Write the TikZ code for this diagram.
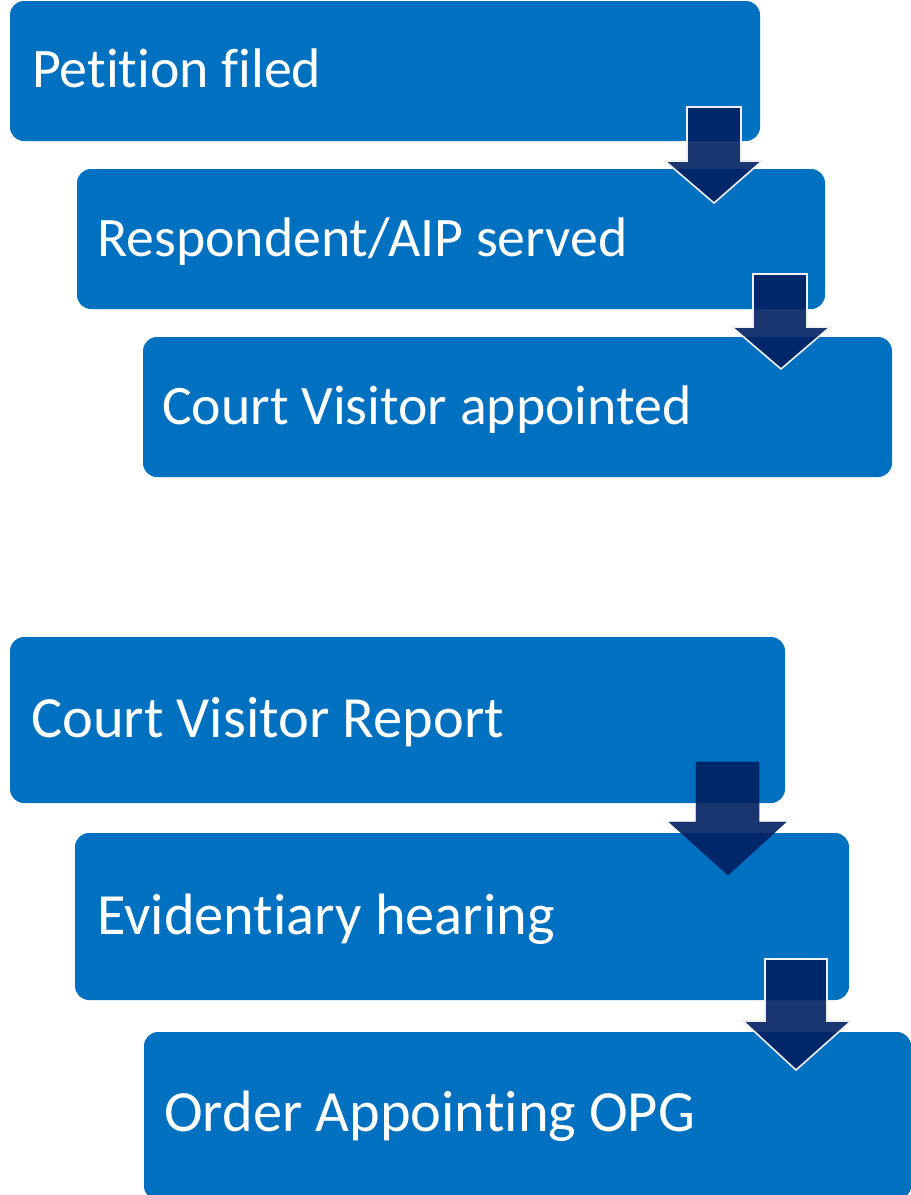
\documentclass[tikz,border=0pt]{standalone}
\usepackage{fontspec}
\setmainfont{Carlito}[Ligatures={NoCommon,NoContextual},Contextuals=NoAlternate]
\definecolor{boxblue}{HTML}{0070C0}
\definecolor{navy}{HTML}{002060}
\begin{document}
\begin{tikzpicture}[x=1bp,y=-1bp,
  stepbox/.style={fill=boxblue,rounded corners=14bp,draw=none},
  steptext/.style={anchor=base west,text=white,font=\fontsize{56}{62}\selectfont,inner sep=0pt},
  steptextb/.style={steptext,font=\fontsize{58.6}{64}\selectfont},
  blockarrow/.style={fill=navy,fill opacity=0.9,draw=white!88!gray,draw opacity=1,line width=1.6bp,line join=miter},
  blockarrowplain/.style={fill=navy,fill opacity=0.9,draw=navy,draw opacity=0.6,line width=0.8bp}]
\useasboundingbox (0,0) rectangle (911,1195);
% boxes
\fill[stepbox] (10,1) rectangle (760,141);
\fill[stepbox] (77,169) rectangle (825,309);
\fill[stepbox] (143,337) rectangle (892,477);
\fill[stepbox] (10,637) rectangle (785,803);
\fill[stepbox] (75,833) rectangle (849,1000);
\fill[stepbox] (144,1032) rectangle (911,1200);
% texts
\node[steptext] (t1) at (32,87) {Petition filed};
\node[steptext] (t2) at (97,256) {Respondent/AIP served};
\node[steptext] (t3) at (162,424) {Court Visitor appointed};
\node[steptextb] (t4) at (31,737) {Court Visitor Report};
\node[steptextb] (t5) at (97,934) {Evidentiary hearing};
\node[steptextb] (t6) at (164,1131) {Order Appointing OPG};
% arrows
\draw[blockarrow] (687,107) -- (741,107) -- (741,161) -- (762,161) -- (714,203) -- (665,161) -- (687,161) -- cycle;
\draw[blockarrow] (753,274) -- (807,274) -- (807,327) -- (830,327) -- (781,369) -- (732,327) -- (753,327) -- cycle;
\draw[blockarrowplain] (696,762) -- (759,762) -- (759,822) -- (786,822) -- (728,875) -- (669,822) -- (696,822) -- cycle;
\draw[blockarrow] (765,959) -- (827,959) -- (827,1021) -- (851,1021) -- (796,1070) -- (743,1021) -- (765,1021) -- cycle;
\end{tikzpicture}
\end{document}
